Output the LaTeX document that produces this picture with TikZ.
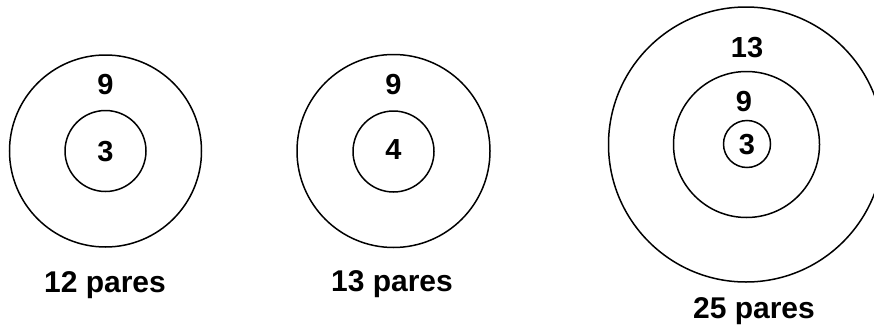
\documentclass[tikz,border=0pt]{standalone}
\usepackage{fontspec}
\setmainfont{Liberation Sans}
\begin{document}
\begin{tikzpicture}[x=1pt,y=-1pt,
  ring/.style={circle,draw,line width=1.5pt,inner sep=0pt},
  lbl/.style={font=\fontsize{29}{31}\selectfont\bfseries,inner sep=0pt},
  captxt/.style={font=\fontsize{30}{33}\selectfont\bfseries,inner sep=0pt,anchor=base}]
\useasboundingbox (0,0) rectangle (874,332);
% left
\node[ring,minimum size=192pt] (L1) at (105.5,151) {};
\node[ring,minimum size=81pt] (L2) at (105.5,151) {};
\node[lbl] (L9) at (105.5,85) {9};
\node[lbl] (L3) at (105.5,152) {3};
\node[captxt] (Lc) at (105,292) {12 pares};
% middle
\node[ring,minimum size=193pt] (M1) at (393.5,151) {};
\node[ring,minimum size=81pt] (M2) at (393.5,151.5) {};
\node[lbl] (M9) at (393.5,85) {9};
\node[lbl] (M4) at (393.5,150) {4};
\node[captxt] (Mc) at (392,291) {13 pares};
% right
\node[ring,minimum size=275pt] (R1) at (746,144.5) {};
\node[ring,minimum size=146pt] (R2) at (746.5,144.5) {};
\node[ring,minimum size=47pt] (R3) at (747,144) {};
\node[lbl] (R13) at (747,48) {13};
\node[lbl] (R9) at (744,102) {9};
\node[lbl] (R3t) at (747,145) {3};
\node[captxt] (Rc) at (754,318) {25 pares};
\end{tikzpicture}
\end{document}
